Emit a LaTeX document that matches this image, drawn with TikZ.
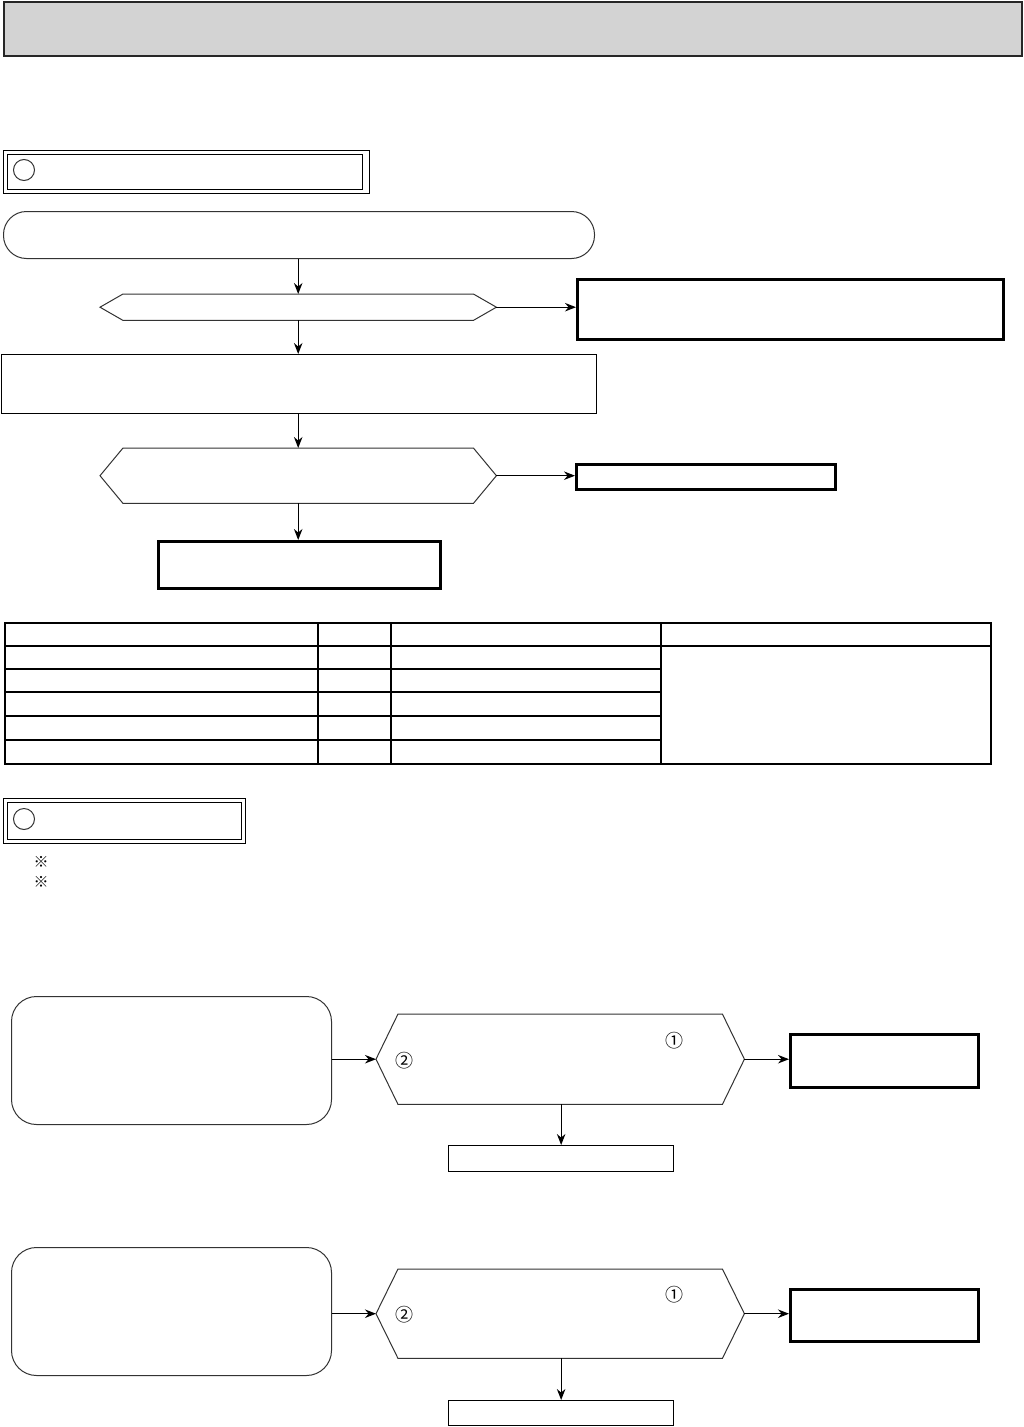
\documentclass[tikz,border=0pt]{standalone}
\usepackage{fontspec}
\newfontfamily\jpfont{Noto Sans CJK JP}
\usetikzlibrary{arrows.meta}
\definecolor{hdrgray}{RGB}{211,211,211}
\begin{document}
\begin{tikzpicture}[x=1pt,y=-1pt,
  thinbox/.style={draw=black, line width=1.3pt, inner sep=0pt, anchor=north west},
  thickbox/.style={draw=black, line width=2.6pt, inner sep=0pt, anchor=north west},
  softbox/.style={draw=black!80, line width=1pt, inner sep=0pt, anchor=north west},
  hexbase/.style={inner sep=0pt, anchor=north west},
  softline/.style={draw=black!80, line width=1pt},
  arr/.style={-{Stealth[length=11pt,width=8.5pt]}, line width=1.2pt},
  circmark/.style={font=\jpfont\fontsize{18}{18}\selectfont, inner sep=0pt},
  refmark/.style={font=\jpfont\fontsize{15}{15}\selectfont, inner sep=0pt},
  tline/.style={line width=1.3pt},
  touter/.style={line width=2.6pt}
]
\useasboundingbox (0,0) rectangle (1023,1427);

% header
\node[draw=black!85, line width=2pt, fill=hdrgray, inner sep=0pt, anchor=north west,
      minimum width=1018pt, minimum height=54pt] (hdr) at (3,1) {};

% section A title
\node[thinbox, minimum width=366pt, minimum height=43pt] (tA) at (3,150) {};
\node[thinbox, minimum width=355pt, minimum height=35pt] (tAi) at (7,154) {};
\node[draw=black!80, line width=1pt, circle, minimum size=21pt, inner sep=0pt] (cA) at (24,170) {};

% flow A
\node[softbox, rounded corners=23pt, minimum width=591pt, minimum height=47pt] (r1) at (3,211) {};
\node[hexbase, minimum width=396pt, minimum height=26pt] (h1) at (100,294) {};
\draw[softline] (h1.west) -- ([xshift=23pt]h1.north west) -- ([xshift=-23pt]h1.north east)
  -- (h1.east) -- ([xshift=-23pt]h1.south east) -- ([xshift=23pt]h1.south west) -- cycle;
\node[thickbox, minimum width=426pt, minimum height=60pt] (rb1) at (576,278) {};
\node[thinbox, minimum width=595pt, minimum height=59pt] (b2) at (1,354) {};
\node[hexbase, minimum width=396pt, minimum height=55pt] (h2) at (100,448) {};
\draw[softline] (h2.west) -- ([xshift=23pt]h2.north west) -- ([xshift=-23pt]h2.north east)
  -- (h2.east) -- ([xshift=-23pt]h2.south east) -- ([xshift=23pt]h2.south west) -- cycle;
\node[thickbox, minimum width=259pt, minimum height=25pt] (rb2) at (575,463) {};
\node[thickbox, minimum width=282pt, minimum height=47pt] (b3) at (157,540) {};

\draw[arr] (r1.south -| h1.north) -- (h1.north);
\draw[arr] (h1.east) -- (h1.east -| rb1.west);
\draw[arr] (h1.south) -- (h1.south |- b2.north);
\draw[arr] (b2.south -| h2.north) -- (h2.north);
\draw[arr] (h2.east) -- (h2.east -| rb2.west);
\draw[arr] (h2.south) -- (h2.south |- b3.north);

% table
\draw[tline] (5,646) -- (991,646);
\foreach \yy in {669,692,716,740} { \draw[tline] (5,\yy) -- (661,\yy); }
\foreach \xx in {318,391,661} { \draw[tline] (\xx,623) -- (\xx,764); }
\draw[touter] (5,623) rectangle (991,764);

% section B title
\node[thinbox, minimum width=242pt, minimum height=45pt] (tB) at (3,798) {};
\node[thinbox, minimum width=234pt, minimum height=37pt] (tBi) at (7,802) {};
\node[draw=black!80, line width=1pt, circle, minimum size=21pt, inner sep=0pt] (cB) at (24,819) {};
\node[refmark] (n1) at (41,862) {※};
\node[refmark] (n2) at (41,882) {※};

% flow B1
\node[softbox, rounded corners=25pt, minimum width=320pt, minimum height=128pt] (s1) at (11,996) {};
\node[hexbase, minimum width=368pt, minimum height=90pt] (h3) at (376,1014) {};
\draw[softline] (h3.west) -- ([xshift=22pt]h3.north west) -- ([xshift=-22pt]h3.north east)
  -- (h3.east) -- ([xshift=-22pt]h3.south east) -- ([xshift=22pt]h3.south west) -- cycle;
\node[thickbox, minimum width=188pt, minimum height=53pt] (rb3) at (789,1033) {};
\node[thinbox, minimum width=225pt, minimum height=26pt] (b4) at (448,1145) {};
\node[circmark] (m1a) at (674,1041) {①};
\node[circmark] (m2a) at (404,1061) {②};
\draw[arr] (s1.east |- h3.west) -- (h3.west);
\draw[arr] (h3.east) -- (h3.east -| rb3.west);
\draw[arr] (b4.north |- h3.south) -- (b4.north);

% flow B2
\node[softbox, rounded corners=25pt, minimum width=320pt, minimum height=128pt] (s2) at (11,1247) {};
\node[hexbase, minimum width=368pt, minimum height=89pt] (h4) at (376,1269) {};
\draw[softline] (h4.west) -- ([xshift=22pt]h4.north west) -- ([xshift=-22pt]h4.north east)
  -- (h4.east) -- ([xshift=-22pt]h4.south east) -- ([xshift=22pt]h4.south west) -- cycle;
\node[thickbox, minimum width=188pt, minimum height=52pt] (rb4) at (789,1288) {};
\node[thinbox, minimum width=225pt, minimum height=25pt] (b5) at (448,1400) {};
\node[circmark] (m1b) at (674,1295) {①};
\node[circmark] (m2b) at (404,1315) {②};
\draw[arr] (s2.east |- h4.west) -- (h4.west);
\draw[arr] (h4.east) -- (h4.east -| rb4.west);
\draw[arr] (b5.north |- h4.south) -- (b5.north);
\end{tikzpicture}
\end{document}
